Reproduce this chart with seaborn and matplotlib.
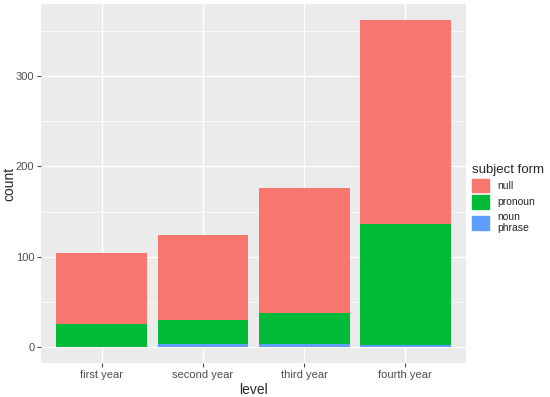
import matplotlib
matplotlib.use("Agg")
import matplotlib.pyplot as plt
import matplotlib.patches as mpatches
from matplotlib.ticker import MultipleLocator
import seaborn as sns
import numpy as np
import pandas as pd

# Data
levels = ['first year', 'second year', 'third year', 'fourth year']
noun_phrase = [0, 3, 3, 2]
pronoun = [25, 27, 35, 134]
null = [79, 94, 138, 226]

colors = {'null': '#F8766D', 'pronoun': '#00BA38', 'noun phrase': '#619CFF'}

sns.set_theme(style="darkgrid", rc={
    'axes.facecolor': '#EBEBEB',
    'grid.color': 'white',
    'axes.edgecolor': '#EBEBEB',
})
plt.rcParams['font.family'] = ['Liberation Sans', 'DejaVu Sans']

df = pd.DataFrame({'level': levels, 'noun phrase': noun_phrase,
                   'pronoun': pronoun, 'null': null})
df['np_top'] = df['noun phrase']
df['pron_top'] = df['np_top'] + df['pronoun']
df['null_top'] = df['pron_top'] + df['null']

fig, ax = plt.subplots(figsize=(5.5, 3.97), dpi=100)

# overlapping cumulative bars -> stacked look
for col, key in [('null_top', 'null'), ('pron_top', 'pronoun'), ('np_top', 'noun phrase')]:
    sns.barplot(data=df, x='level', y=col, color=colors[key], width=0.9,
                saturation=1, ax=ax, order=levels, linewidth=0)

ymax = df['null_top'].max()
ax.set_ylim(-0.05 * ymax, 1.05 * ymax)
ax.set_xlim(-0.6, 3.6)
ax.yaxis.set_major_locator(MultipleLocator(100))
ax.yaxis.set_minor_locator(MultipleLocator(50))
ax.grid(True, which='major', color='white', linewidth=1.0)
ax.grid(True, which='minor', axis='y', color='white', linewidth=0.5)
ax.set_axisbelow(True)
ax.tick_params(axis='both', which='major', length=3, width=0.8, color='#4D4D4D',
               labelsize=8, labelcolor='#4D4D4D', pad=2)
ax.tick_params(axis='y', which='minor', length=0)
ax.tick_params(bottom=True, left=True)
for s in ax.spines.values():
    s.set_visible(False)

ax.set_xlabel('level', fontsize=10, labelpad=2)
ax.set_ylabel('count', fontsize=10)
ax.yaxis.set_label_coords(-0.058, 0.5)

handles = [mpatches.Patch(color=colors['null'], label='null'),
           mpatches.Patch(color=colors['pronoun'], label='pronoun'),
           mpatches.Patch(color=colors['noun phrase'], label='noun\nphrase')]
leg = fig.legend(handles=handles, title='subject form', loc='center left',
                 bbox_to_anchor=(0.842, 0.5), frameon=False, fontsize=7.5,
                 title_fontsize=9.5, handlelength=1.6, handleheight=1.6,
                 labelspacing=0.3, alignment='left')

fig.subplots_adjust(left=0.075, right=0.847, top=0.99, bottom=0.085)
fig.savefig('out.png', dpi=100)
